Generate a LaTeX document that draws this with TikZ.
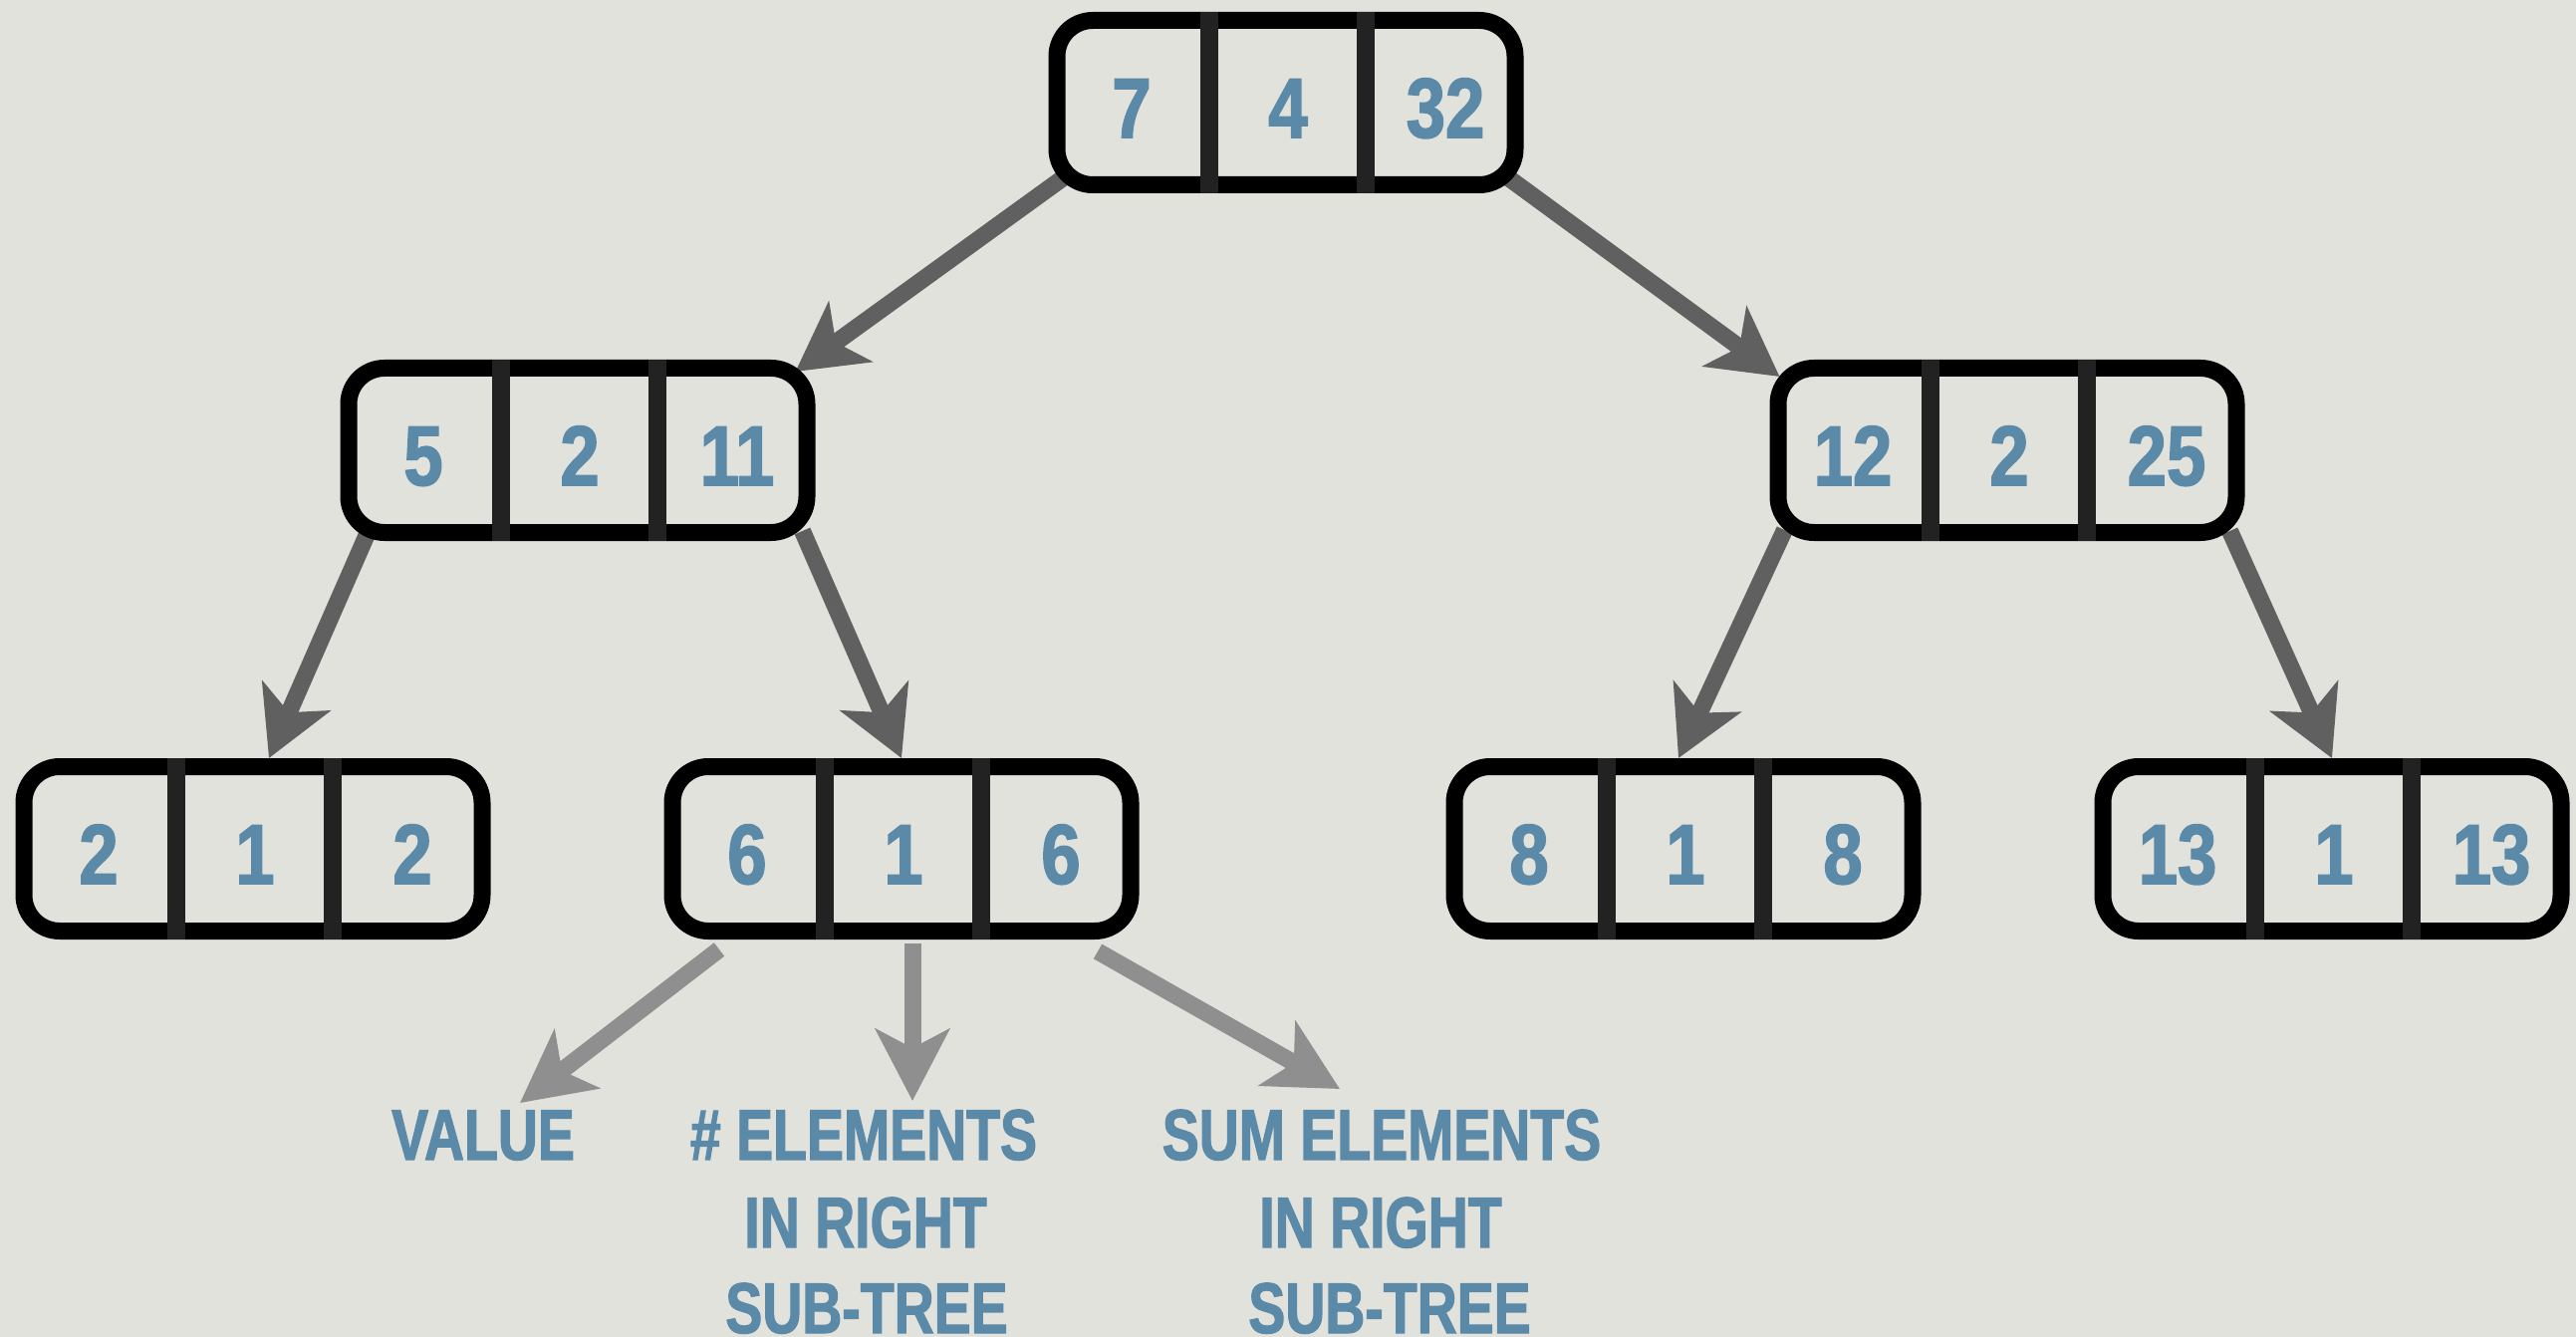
\documentclass[tikz,border=0pt]{standalone}
\usepackage{fontspec}
\newfontfamily\numfont{Liberation Sans Bold}[FakeStretch=0.83,FakeBold=1.8]
\newfontfamily\labfont{Liberation Sans Bold}[FakeStretch=0.77,FakeBold=1.6]
\usetikzlibrary{arrows.meta}
\definecolor{paper}{HTML}{E2E2DD}
\definecolor{ink}{HTML}{5B89A8}
\definecolor{arrowdark}{HTML}{606060}
\definecolor{arrowlight}{HTML}{8F8F8F}
\definecolor{divgray}{HTML}{222222}
\pgfdeclarelayer{under}
\pgfsetlayers{under,main}
\tikzset{
  cellbox/.style={minimum width=238.5pt, minimum height=91pt, inner sep=0pt, outer sep=0pt},
  boxline/.style={draw=black, line width=8.5pt, line join=round},
  divider/.style={draw=divgray, line width=9pt},
  num/.style={anchor=base, inner sep=0pt, text=ink,
    font=\numfont\fontsize{42.6pt}{50pt}\selectfont},
  lab/.style={anchor=base, inner sep=0pt, text=ink,
    font=\labfont\fontsize{36pt}{44pt}\selectfont},
  darrow/.style={draw=arrowdark, line width=8.5pt,
    -{Stealth[length=34pt,width=37pt,inset=9pt]}},
  larrow/.style={draw=arrowlight, line width=8.5pt,
    -{Stealth[length=36pt,width=37pt,inset=9.5pt]}},
}
% a three-cell tree node: name, x, y, value, count, sum
\newcommand\treebox[6]{%
  \node[cellbox] (#1) at (#2,#3) {};
  \draw[boxline] ([shift={(8.5,44.5)}]#1.north west)
    arc[start angle=180,end angle=270,radius=36] -- ++(388,0)
    arc[start angle=270,end angle=360,radius=36] -- ++(0,93)
    arc[start angle=0,end angle=90,radius=36] -- ++(-388,0)
    arc[start angle=90,end angle=180,radius=36] -- cycle;
  \draw[divider] ([shift={(-77,0)}]#1.north) -- ([shift={(-77,0)}]#1.south);
  \draw[divider] ([shift={(80,0)}]#1.north) -- ([shift={(80,0)}]#1.south);
  \node[num] (#1-v) at ([shift={(-155,35)}]#1.center) {#4};
  \node[num] (#1-n) at ([shift={(2,35)}]#1.center) {#5};
  \node[num] (#1-s) at ([shift={(160,35)}]#1.center) {#6};
}
\begin{document}
\begin{tikzpicture}[x=0.5pt,y=-0.5pt]
\useasboundingbox (0,0) rectangle (2586,1342);

% tree nodes
\treebox{r}{1291}{103}{7}{4}{32}
\treebox{a}{580}{452}{5}{2}{11}
\treebox{b}{2015}{452}{12}{2}{25}
\treebox{aa}{254}{852}{2}{1}{2}
\treebox{ab}{905}{852}{6}{1}{6}
\treebox{ba}{1690}{852}{8}{1}{8}
\treebox{bb}{2341}{852}{13}{1}{13}

% legend text under the node 6|1|6
\node[lab] (v1) at (485,1164) {VALUE};
\node[lab] (e1) at (867,1164) {\# ELEMENTS};
\node[lab] (e2) at (869,1252) {IN RIGHT};
\node[lab] (e3) at (870,1338) {SUB-TREE};
\node[lab] (s1) at (1387,1164) {SUM ELEMENTS};
\node[lab] (s2) at (1386,1252) {IN RIGHT};
\node[lab] (s3) at (1395,1338) {SUB-TREE};

\begin{pgfonlayer}{under}
  \fill[paper] (0,0) rectangle (2586,1342);
  % tree edges
  \draw[darrow] ([shift={(17,-17)}]r.south west) -- ([shift={(-20,12)}]a.north east);
  \draw[darrow] ([shift={(-16,-16)}]r.south east) -- ([shift={(10,17)}]b.north west);
  \draw[darrow] ([shift={(28,-9)}]a.south west) -- ([shift={(16,0)}]aa.north);
  \draw[darrow] ([shift={(-13,-10)}]a.south east) -- (ab.north);
  \draw[darrow] ([shift={(15,-11)}]b.south west) -- ([shift={(-5,0)}]ba.north);
  \draw[darrow] ([shift={(-15,-10)}]b.south east) -- (bb.north);
  % legend pointers
  \draw[larrow] ([shift={(-183,10)}]ab.south) -- ([shift={(37,-57)}]v1.base);
  \draw[larrow] ([shift={(11,4)}]ab.south) -- ([shift={(49,-59)}]e1.base);
  \draw[larrow] ([shift={(197,12)}]ab.south) -- ([shift={(-42,-71)}]s1.base);
\end{pgfonlayer}
\end{tikzpicture}
\end{document}
